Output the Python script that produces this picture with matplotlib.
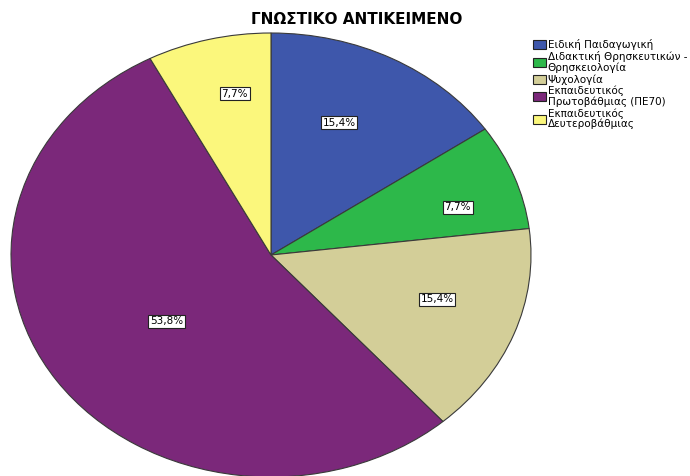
import numpy as np
import matplotlib.pyplot as plt

plt.rcParams['font.family'] = ['DejaVu Sans']

categories = ['Ειδική Παιδαγωγική',
              'Διδακτική Θρησκευτικών -\nΘρησκειολογία',
              'Ψυχολογία',
              'Εκπαιδευτικός\nΠρωτοβάθμιας (ΠΕ70)',
              'Εκπαιδευτικός\nΔευτεροβάθμιας']
shares = [15.4, 7.7, 15.4, 53.8, 7.7]
colors = ['#3E57AB', '#2DB84A', '#D3CE98', '#7B287A', '#FBF77C']

# where each percentage box sits: radius and angular nudge (degrees)
label_r = [0.65, 0.75, 0.67, 0.50, 0.74]
label_nudge = [4, -4, 3.5, 2, -3]

fig = plt.figure(figsize=(6.9, 4.76), dpi=100)
# stretched pie: axes box is wider than tall, aspect left free
ax = fig.add_axes([11/690, -1/476, 520/690, 444/476])
wedges, texts, autotexts = ax.pie(
    shares, colors=colors, startangle=90, counterclock=False,
    autopct=lambda p: f'{p:.1f}%'.replace('.', ','), pctdistance=0.68,
    wedgeprops=dict(edgecolor='#3a3a3a', linewidth=0.8),
    textprops=dict(fontsize=7.5))
for w, t, r, d in zip(wedges, autotexts, label_r, label_nudge):
    ang = np.deg2rad((w.theta1 + w.theta2) / 2 + d)
    t.set_position((r * np.cos(ang), r * np.sin(ang)))
    t.set_bbox(dict(boxstyle='square,pad=0.15', facecolor='white',
                    edgecolor='#222222', linewidth=0.8))
ax.set_aspect('auto')
ax.set_xlim(-1, 1)
ax.set_ylim(-1, 1)

fig.text(357/690, 1 - 20/476, 'ΓΝΩΣΤΙΚΟ ΑΝΤΙΚΕΙΜΕΝΟ', ha='center', va='center',
         fontsize=11, fontweight='bold')

leg = fig.legend(wedges, categories, loc='upper left',
                 bbox_to_anchor=(529/690, 1 - 35/476), frameon=False,
                 fontsize=7.5, handlelength=1.2, handleheight=0.95,
                 handletextpad=0.2, labelspacing=0.12, borderaxespad=0)
for h in leg.legend_handles:
    h.set_edgecolor('#222222')
    h.set_linewidth(0.8)
for t in leg.get_texts():
    t.set_linespacing(1.0)

fig.savefig('out.png', dpi=100)
